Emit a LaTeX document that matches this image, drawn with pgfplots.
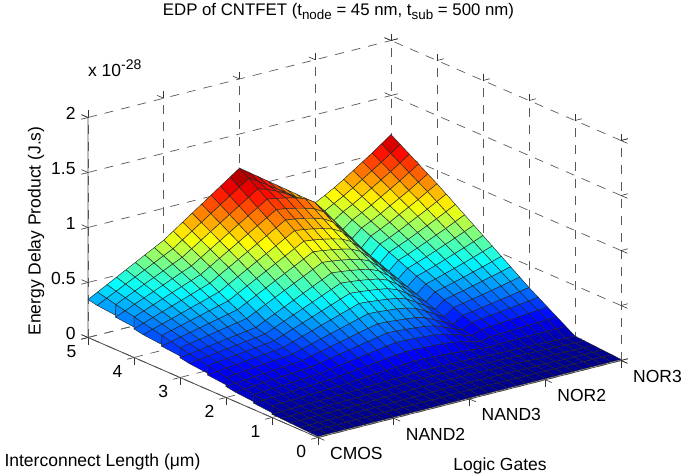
\documentclass[border=0pt]{standalone}
\usepackage{pgfplots}
\usepackage{pgfplotstable}
\usepackage{fontspec}
\setmainfont{Liberation Sans}
\pgfplotsset{compat=1.18}
\pgfplotstableread{
z
0.010
0.010
0.010
0.010
0.010
0.010
0.010
0.010
0.010
0.010
0.010
0.010
0.010
0.010
0.010
0.010
0.010
0.010
0.010
0.010
0.010
0.010
0.010
0.010
0.010
0.010
0.010
0.010
0.010
0.010
0.010
0.010
0.010
0.014
0.015
0.015
0.016
0.016
0.017
0.017
0.018
0.018
0.019
0.020
0.020
0.021
0.021
0.022
0.023
0.024
0.024
0.023
0.023
0.023
0.023
0.022
0.021
0.020
0.020
0.019
0.019
0.019
0.018
0.018
0.017
0.016
0.018
0.019
0.020
0.021
0.022
0.023
0.024
0.025
0.026
0.028
0.029
0.031
0.032
0.034
0.035
0.037
0.038
0.037
0.036
0.035
0.034
0.034
0.033
0.031
0.030
0.029
0.028
0.027
0.026
0.025
0.024
0.023
0.022
0.022
0.024
0.025
0.027
0.028
0.030
0.031
0.033
0.034
0.036
0.039
0.041
0.043
0.045
0.048
0.050
0.052
0.051
0.050
0.049
0.048
0.046
0.044
0.042
0.040
0.039
0.037
0.036
0.034
0.033
0.031
0.030
0.028
0.026
0.028
0.030
0.032
0.034
0.036
0.038
0.040
0.042
0.045
0.048
0.051
0.054
0.057
0.060
0.063
0.066
0.065
0.064
0.062
0.060
0.058
0.055
0.053
0.050
0.048
0.047
0.045
0.043
0.041
0.038
0.036
0.034
0.030
0.033
0.035
0.038
0.040
0.043
0.045
0.048
0.050
0.054
0.058
0.061
0.065
0.069
0.073
0.076
0.080
0.079
0.077
0.075
0.073
0.070
0.067
0.063
0.060
0.058
0.056
0.053
0.051
0.048
0.046
0.043
0.040
0.044
0.048
0.051
0.055
0.058
0.062
0.065
0.069
0.072
0.079
0.086
0.093
0.100
0.107
0.114
0.121
0.128
0.125
0.121
0.116
0.111
0.104
0.096
0.088
0.080
0.087
0.087
0.088
0.089
0.090
0.090
0.091
0.092
0.058
0.063
0.067
0.072
0.076
0.081
0.085
0.090
0.094
0.104
0.115
0.125
0.135
0.145
0.156
0.166
0.176
0.174
0.170
0.166
0.161
0.152
0.134
0.114
0.095
0.115
0.119
0.123
0.127
0.131
0.135
0.139
0.144
0.072
0.078
0.083
0.089
0.094
0.100
0.105
0.111
0.116
0.130
0.143
0.157
0.170
0.184
0.197
0.211
0.224
0.221
0.216
0.210
0.203
0.190
0.165
0.137
0.110
0.144
0.150
0.157
0.165
0.172
0.180
0.188
0.196
0.086
0.093
0.099
0.106
0.112
0.119
0.125
0.132
0.138
0.155
0.172
0.188
0.205
0.222
0.239
0.255
0.272
0.268
0.262
0.254
0.246
0.228
0.196
0.160
0.125
0.172
0.182
0.192
0.203
0.214
0.224
0.236
0.248
0.100
0.108
0.115
0.123
0.130
0.138
0.145
0.153
0.160
0.180
0.200
0.220
0.240
0.260
0.280
0.300
0.320
0.315
0.307
0.298
0.288
0.266
0.226
0.183
0.140
0.201
0.213
0.226
0.241
0.255
0.269
0.285
0.300
0.116
0.125
0.133
0.142
0.150
0.159
0.167
0.176
0.184
0.208
0.232
0.256
0.280
0.304
0.328
0.352
0.376
0.370
0.362
0.352
0.339
0.315
0.270
0.221
0.172
0.236
0.251
0.267
0.285
0.302
0.320
0.339
0.358
0.132
0.142
0.151
0.161
0.170
0.180
0.189
0.199
0.208
0.236
0.264
0.292
0.320
0.348
0.376
0.404
0.432
0.425
0.416
0.405
0.391
0.364
0.313
0.259
0.204
0.270
0.288
0.307
0.329
0.350
0.371
0.393
0.416
0.148
0.159
0.169
0.180
0.190
0.201
0.211
0.222
0.232
0.264
0.296
0.328
0.360
0.392
0.424
0.456
0.488
0.480
0.470
0.458
0.443
0.412
0.357
0.296
0.236
0.305
0.325
0.348
0.372
0.397
0.421
0.448
0.474
0.164
0.176
0.187
0.199
0.210
0.222
0.233
0.245
0.256
0.292
0.328
0.364
0.400
0.436
0.472
0.508
0.544
0.536
0.525
0.511
0.494
0.461
0.400
0.334
0.268
0.339
0.363
0.389
0.416
0.444
0.472
0.502
0.532
0.180
0.193
0.205
0.218
0.230
0.243
0.255
0.268
0.280
0.320
0.360
0.400
0.440
0.480
0.520
0.560
0.600
0.591
0.579
0.564
0.546
0.510
0.444
0.372
0.300
0.374
0.400
0.429
0.460
0.492
0.523
0.556
0.590
0.196
0.212
0.228
0.244
0.260
0.276
0.292
0.308
0.324
0.366
0.408
0.450
0.492
0.534
0.576
0.618
0.660
0.650
0.637
0.621
0.601
0.562
0.490
0.412
0.334
0.410
0.439
0.471
0.505
0.540
0.574
0.611
0.648
0.212
0.232
0.251
0.271
0.290
0.310
0.329
0.349
0.368
0.412
0.456
0.500
0.544
0.588
0.632
0.676
0.720
0.709
0.695
0.678
0.657
0.614
0.537
0.452
0.368
0.447
0.478
0.513
0.550
0.588
0.625
0.666
0.706
0.228
0.251
0.274
0.297
0.320
0.343
0.366
0.389
0.412
0.458
0.504
0.550
0.596
0.642
0.688
0.734
0.780
0.769
0.754
0.735
0.712
0.667
0.583
0.493
0.402
0.483
0.518
0.555
0.596
0.636
0.677
0.720
0.764
0.244
0.271
0.297
0.324
0.350
0.377
0.403
0.430
0.456
0.504
0.552
0.600
0.648
0.696
0.744
0.792
0.840
0.828
0.812
0.792
0.767
0.719
0.630
0.533
0.436
0.520
0.557
0.597
0.641
0.685
0.728
0.775
0.822
0.260
0.290
0.320
0.350
0.380
0.410
0.440
0.470
0.500
0.550
0.600
0.650
0.700
0.750
0.800
0.850
0.900
0.887
0.870
0.848
0.823
0.771
0.676
0.573
0.470
0.556
0.596
0.639
0.686
0.732
0.779
0.830
0.880
0.277
0.310
0.343
0.376
0.410
0.443
0.476
0.509
0.542
0.594
0.646
0.698
0.750
0.802
0.854
0.906
0.958
0.945
0.927
0.905
0.879
0.827
0.730
0.625
0.520
0.594
0.635
0.680
0.729
0.777
0.826
0.880
0.933
0.294
0.330
0.367
0.403
0.439
0.475
0.512
0.548
0.584
0.638
0.692
0.746
0.800
0.854
0.908
0.962
1.016
1.002
0.984
0.962
0.935
0.881
0.781
0.673
0.565
0.631
0.675
0.722
0.773
0.824
0.876
0.931
0.986
0.311
0.350
0.390
0.429
0.469
0.508
0.547
0.587
0.626
0.682
0.738
0.794
0.850
0.906
0.962
1.018
1.074
1.046
1.009
0.963
0.907
0.842
0.768
0.689
0.610
0.669
0.714
0.764
0.817
0.870
0.924
0.981
1.039
0.328
0.371
0.413
0.456
0.498
0.541
0.583
0.626
0.668
0.726
0.784
0.842
0.900
0.958
1.016
1.074
1.132
1.085
1.028
0.972
0.915
0.854
0.792
0.726
0.660
0.707
0.754
0.805
0.861
0.917
0.972
1.032
1.092
0.345
0.391
0.436
0.482
0.528
0.573
0.619
0.664
0.710
0.770
0.830
0.890
0.950
1.010
1.070
1.130
1.190
1.129
1.068
1.006
0.945
0.884
0.823
0.761
0.700
0.745
0.793
0.847
0.905
0.963
1.020
1.083
1.145
}\edptable
\begin{document}
\fontsize{17.5}{20}\selectfont
\begin{tikzpicture}
\useasboundingbox (0,0) rectangle (685pt,475pt);
\begin{axis}[
  at={(318pt,37.5pt)}, anchor=origin,
  x={(9.469pt,2.406pt)}, y={(-9.2pt,4pt)}, z={(0pt,110pt)},
  xmin=0, xmax=32, ymin=0, ymax=25, zmin=0, zmax=2,
  clip=false,
  axis line style={draw=none},
  grid=major,
  major grid style={black!65, line width=0.7pt, dash pattern=on 9pt off 8pt},
  tick style={black!80, line width=0.6pt},
  tick align=outside,
  major tick length=7pt,
  xtick={0,8,16,24,32},
  xticklabels={CMOS,NAND2,NAND3,NOR2,NOR3},
  ytick={0,5,10,15,20,25},
  yticklabels={0,1,2,3,4,5},
  ztick={0,0.5,1,1.5,2},
  zticklabels={0,0.5,1,1.5,2},
  ticklabel style={font=\fontsize{17.5}{20}\selectfont},
  xticklabel style={anchor=west, inner sep=0pt, xshift=5.5pt, yshift=-13pt},
  colormap={myjet}{rgb=(0,0,0.5) rgb=(0,0,1) rgb=(0,0.5,1) rgb=(0,1,1) rgb=(0.5,1,0.5) rgb=(1,1,0) rgb=(1,0.5,0) rgb=(1,0,0) rgb=(0.5,0,0)},
  point meta min=0, point meta max=1.195,
]
\addplot3[black!70, line width=0.8pt, forget plot] coordinates {(0,25,2) (0,25,0) (0,0,0) (32,0,0)};
\addplot3[surf, shader=faceted, faceted color=black!85, line width=0.45pt, z buffer=sort,
  mesh/rows=26, mesh/cols=33, point meta=\thisrow{z}]
  table[x index=0, y index=0, z index=0, x expr={mod(\coordindex,33)}, y expr={floor(\coordindex/33)}] {\edptable};
\end{axis}
\node at (338.5pt,463.5pt) {\fontsize{16.8}{20}\selectfont EDP of CNTFET (t\raisebox{-4pt}{\fontsize{13.4}{14}\selectfont node} = 45 nm, t\raisebox{-4pt}{\fontsize{13.4}{14}\selectfont sub} = 500 nm)};
\node[anchor=west] at (82pt,407pt) {x 10\raisebox{7pt}{\fontsize{14}{14}\selectfont -28}};
\node[rotate=90] at (36pt,244pt) {Energy Delay Product (J.s)};
\node at (500pt,9pt) {Logic Gates};
\node[anchor=west] at (-1.5pt,13pt) {Interconnect Length (μm)};
\end{tikzpicture}
\end{document}
